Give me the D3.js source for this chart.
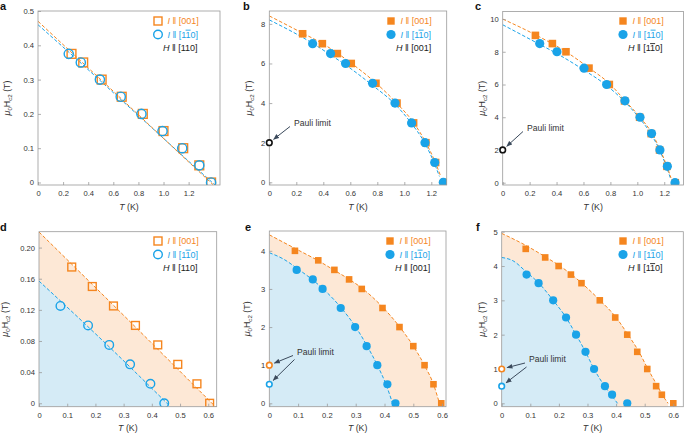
<!DOCTYPE html>
<html lang="en">
<head>
  <meta charset="UTF-8">
  <title>Upper critical field vs temperature</title>
  <script src="https://d3js.org/d3.v7.min.js"></script>
  <style>
    body { margin: 0; background: #fff; }
    svg { display: block; font-family: "Liberation Sans", Arial, sans-serif; }
    .tick text { font-size: 7.6px; fill: #333; }
    .tick line { stroke: #9a9a9a; stroke-width: 0.8px; }
    .frame { fill: none; stroke: #9a9a9a; stroke-width: 0.8px; }
    .fit { fill: none; stroke-width: 1px; stroke-dasharray: 3.5,2; }
  </style>
</head>
<body>
<svg width="685" height="433"></svg>
<script>
  // colours
  const orange = "#f5861f", blue = "#1aa3e8";
  const orangeFill = "#fde8d6", blueFill = "#d5ebf6";

  // ---- data: [T (K), mu0Hc2 (T)] ----
  // a: H || [110], first crystal
  const aSquares = [[0.267,0.375],[0.36,0.35],[0.507,0.30],[0.667,0.25],[0.835,0.20],[1.0,0.15],[1.157,0.10],[1.285,0.05],[1.379,0]];
  const aCircles = [[0.245,0.375],[0.341,0.35],[0.493,0.30],[0.659,0.25],[0.824,0.20],[0.992,0.15],[1.149,0.10],[1.285,0.05],[1.379,0]];
  const aSqFit = [[0,0.47],[0.3,0.368],[0.6,0.266],[0.9,0.163],[1.2,0.06],[1.45,-0.025]];
  const aCiFit = [[0,0.46],[0.3,0.362],[0.6,0.262],[0.9,0.162],[1.2,0.062],[1.45,-0.02]];

  // b: H || [001]
  const bSquares = [[0.247,7.5],[0.393,7],[0.504,6.5],[0.607,6],[0.79,5],[0.946,4],[1.069,3],[1.16,2],[1.232,1],[1.30,0]];
  const bCircles = [[0.321,7],[0.454,6.5],[0.565,6],[0.765,5],[0.931,4],[1.054,3],[1.153,2],[1.225,1],[1.289,0]];
  const bSqFit = [[0,8.4],[0.25,7.52],[0.4,6.98],[0.6,6.05],[0.8,4.95],[0.95,3.95],[1.07,3.0],[1.16,2.0],[1.23,1.0],[1.27,0.3]];
  const bCiFit = [[0,8.2],[0.32,7.02],[0.45,6.45],[0.56,5.95],[0.76,4.92],[0.93,3.95],[1.05,3.0],[1.15,2.0],[1.22,1.0],[1.26,0.3]];

  // c: H || [1-10]
  const cSquares = [[0.243,9],[0.369,8.5],[0.47,8],[0.641,7],[0.792,6],[0.905,5],[1.017,4],[1.103,3],[1.165,2],[1.22,1],[1.282,0]];
  const cCircles = [[0.275,8.5],[0.403,8],[0.604,7],[0.772,6],[0.908,5],[1.02,4],[1.106,3],[1.168,2],[1.223,1],[1.28,0]];
  const cSqFit = [[0,10.0],[0.24,9.05],[0.47,8.0],[0.64,7.02],[0.8,6.0],[0.91,5.0],[1.02,4.0],[1.11,3.0],[1.17,2.0],[1.22,1.0],[1.25,0.3]];
  const cCiFit = [[0,9.65],[0.275,8.45],[0.4,7.9],[0.6,6.9],[0.77,5.95],[0.9,5.0],[1.01,4.0],[1.1,3.0],[1.165,2.0],[1.215,1.0],[1.245,0.3]];

  // d: H || [110], second crystal
  const dSquares = [[0.116,0.175],[0.189,0.15],[0.264,0.125],[0.342,0.10],[0.421,0.075],[0.492,0.05],[0.56,0.025],[0.605,0]];
  const dCircles = [[0.076,0.125],[0.174,0.10],[0.249,0.075],[0.323,0.05],[0.395,0.025],[0.444,0]];
  const dSqFit = [[0,0.22],[0.3,0.113],[0.63,-0.006]];
  const dCiFit = [[0,0.157],[0.23,0.079],[0.465,-0.004]];

  // e: H || [001]
  const eSquares = [[0.089,4],[0.170,3.75],[0.226,3.5],[0.277,3.25],[0.321,3.0],[0.393,2.5],[0.452,2.0],[0.50,1.5],[0.539,1.0],[0.570,0.5],[0.597,0]];
  const eCircles = [[0.095,3.5],[0.151,3.25],[0.185,3.0],[0.248,2.5],[0.298,2.0],[0.338,1.5],[0.375,1.0],[0.410,0.5],[0.438,0]];
  const eSqFit = [[0,4.42],[0.09,4.06],[0.17,3.74],[0.23,3.47],[0.28,3.24],[0.32,3.03],[0.39,2.55],[0.45,2.03],[0.5,1.5],[0.54,0.98],[0.57,0.5],[0.59,0.02]];
  const eCiFit = [[0,3.95],[0.05,3.78],[0.1,3.52],[0.15,3.24],[0.19,2.98],[0.25,2.5],[0.3,2.0],[0.34,1.5],[0.375,1.0],[0.405,0.5],[0.428,0.0]];

  // f: H || [1-10]
  const fSquares = [[0.084,4.5],[0.152,4.25],[0.199,4.0],[0.242,3.75],[0.279,3.5],[0.343,3.0],[0.397,2.5],[0.439,2.0],[0.474,1.5],[0.509,1.0],[0.540,0.5],[0.560,0.25],[0.600,0]];
  const fCircles = [[0.087,3.75],[0.129,3.5],[0.180,3.0],[0.225,2.5],[0.260,2.0],[0.293,1.5],[0.323,1.0],[0.361,0.5],[0.386,0.25],[0.439,0]];
  const fSqFit = [[0,4.95],[0.08,4.62],[0.15,4.28],[0.2,4.02],[0.24,3.78],[0.28,3.5],[0.34,3.03],[0.4,2.5],[0.44,2.02],[0.48,1.5],[0.51,1.02],[0.545,0.5],[0.565,0.2],[0.582,0]];
  const fCiFit = [[0,4.25],[0.04,4.15],[0.087,3.82],[0.13,3.5],[0.18,3.0],[0.225,2.5],[0.26,2.0],[0.293,1.5],[0.323,1.0],[0.36,0.5],[0.385,0.22],[0.405,0]];

  // Pauli limits
  const bcPauli = 2;
  const efPauliSq = 1.0, efPauliCi = 0.5;

  // ticks
  const tTicksWide = [0, 0.2, 0.4, 0.6, 0.8, 1.0, 1.2];
  const tTicksNarrow = [0, 0.1, 0.2, 0.3, 0.4, 0.5, 0.6];
  const aHTicks = [0, 0.1, 0.2, 0.3, 0.4, 0.5];
  const bHTicks = [0, 2, 4, 6, 8];
  const cHTicks = [0, 2, 4, 6, 8, 10];
  const dHTicks = [0, 0.04, 0.08, 0.12, 0.16, 0.20];
  const eHTicks = [0, 1, 2, 3, 4];
  const fHTicks = [0, 1, 2, 3, 4, 5];

  const svg = d3.select("svg");
  const defs = svg.append("defs");
  defs.append("marker")
    .attr("id", "arrowhead")
    .attr("viewBox", "0 -5 10 10")
    .attr("refX", 9).attr("refY", 0)
    .attr("markerWidth", 6).attr("markerHeight", 6)
    .attr("orient", "auto")
    .append("path")
    .attr("d", "M0,-4L10,0L0,4Z")
    .attr("fill", "#3b4a5c");

  function addDir(t, dir) {
    // dir: "110", "001" or "1-10" (overbar on second 1)
    t.append("tspan").text(" \u2016 [");
    if (dir === "1-10") {
      t.append("tspan").text("1");
      t.append("tspan").text("1").style("text-decoration", "overline");
      t.append("tspan").text("0]");
    } else {
      t.append("tspan").text(dir + "]");
    }
  }

  function drawPanel(p) {
    const g = svg.append("g");
    const x = d3.scaleLinear().domain(p.xDom).range([p.left, p.right]);
    const y = d3.scaleLinear().domain(p.yDom).range([p.bottom, p.top]);

    defs.append("clipPath").attr("id", "clip-" + p.letter)
      .append("rect")
      .attr("x", p.left).attr("y", p.top)
      .attr("width", p.right - p.left).attr("height", p.bottom - p.top);
    const plot = g.append("g").attr("clip-path", "url(#clip-" + p.letter + ")");

    const line = d3.line().x(d => x(d[0])).y(d => y(d[1])).curve(d3.curveMonotoneX);

    if (p.shade) {
      const area = d3.area().x(d => x(d[0])).y0(p.bottom).y1(d => y(d[1])).curve(d3.curveMonotoneX);
      plot.append("path").datum(p.sqFit).attr("d", area).attr("fill", orangeFill);
      plot.append("path").datum(p.ciFit).attr("d", area).attr("fill", blueFill);
    }

    // axes with inward ticks
    const xAxis = g.append("g")
      .attr("transform", `translate(0,${p.bottom})`)
      .call(d3.axisBottom(x).tickValues(p.xTicks).tickSize(-3).tickPadding(5.5)
        .tickFormat(d => d === 0 ? "0" : d3.format(".1f")(d)));
    const yAxis = g.append("g")
      .attr("transform", `translate(${p.left},0)`)
      .call(d3.axisLeft(y).tickValues(p.yTicks).tickSize(-3).tickPadding(4)
        .tickFormat(p.yFmt));
    [xAxis, yAxis].forEach(ax => {
      ax.attr("font-size", null).attr("font-family", null);
      ax.select(".domain").remove();
    });

    g.append("rect").attr("class", "frame")
      .attr("x", p.left).attr("y", p.top)
      .attr("width", p.right - p.left).attr("height", p.bottom - p.top);

    // fits
    plot.append("path").datum(p.ciFit).attr("class", "fit").attr("stroke", blue).attr("d", line);
    plot.append("path").datum(p.sqFit).attr("class", "fit").attr("stroke", orange).attr("d", line);

    // points
    const s = p.sqSize;
    plot.append("g").selectAll("rect").data(p.squares).enter().append("rect")
      .attr("x", d => x(d[0]) - s / 2).attr("y", d => y(d[1]) - s / 2)
      .attr("width", s).attr("height", s)
      .attr("fill", p.filled ? orange : "none")
      .attr("stroke", orange).attr("stroke-width", p.filled ? 0 : 1.4);
    plot.append("g").selectAll("circle").data(p.circles).enter().append("circle")
      .attr("cx", d => x(d[0])).attr("cy", d => y(d[1])).attr("r", p.ciR)
      .attr("fill", p.filled ? blue : "none")
      .attr("stroke", blue).attr("stroke-width", p.filled ? 0 : 1.4);

    // Pauli limit markers and arrows
    if (p.pauli) {
      p.pauli.forEach((pl, i) => {
        const px = x(0), py = y(pl.h);
        const sx = p.pauliText[0] - 4 + i * 1.5, sy = p.pauliText[1] + 1 + i * 4;
        const dx = sx - px, dy = sy - py, len = Math.hypot(dx, dy);
        g.append("line")
          .attr("x1", sx).attr("y1", sy)
          .attr("x2", px + dx / len * 5.5).attr("y2", py + dy / len * 5.5)
          .attr("stroke", "#3b4a5c").attr("stroke-width", 1)
          .attr("marker-end", "url(#arrowhead)");
        g.append("circle")
          .attr("cx", px).attr("cy", py).attr("r", 2.8)
          .attr("fill", "#fff").attr("stroke", pl.color).attr("stroke-width", 1.6);
      });
      g.append("text")
        .attr("x", p.pauliText[0]).attr("y", p.pauliText[1])
        .attr("font-size", 8.6).attr("fill", "#333")
        .text("Pauli limit");
    }

    // legend
    const lx = p.legend[0], ly = p.legend[1];
    if (p.filled) {
      g.append("rect").attr("x", lx - 3.7).attr("y", ly - 3.7).attr("width", 7.4).attr("height", 7.4).attr("fill", orange);
      g.append("circle").attr("cx", lx).attr("cy", ly + 13.5).attr("r", 4.6).attr("fill", blue);
    } else {
      g.append("rect").attr("x", lx - 4).attr("y", ly - 4).attr("width", 8).attr("height", 8)
        .attr("fill", "none").attr("stroke", orange).attr("stroke-width", 1.4);
      g.append("circle").attr("cx", lx).attr("cy", ly + 13.5).attr("r", 4.3)
        .attr("fill", "none").attr("stroke", blue).attr("stroke-width", 1.4);
    }
    const t1 = g.append("text").attr("x", lx + 9.5).attr("y", ly + 3.2).attr("font-size", 9).attr("fill", orange);
    t1.append("tspan").text("I").style("font-style", "italic");
    addDir(t1, "001");
    const t2 = g.append("text").attr("x", lx + 9.5).attr("y", ly + 16.7).attr("font-size", 9).attr("fill", blue);
    t2.append("tspan").text("I").style("font-style", "italic");
    addDir(t2, "1-10");
    const t3 = g.append("text").attr("x", lx + 5).attr("y", ly + 30.2).attr("font-size", 9).attr("fill", "#222");
    t3.append("tspan").text("H").style("font-style", "italic");
    addDir(t3, p.hDir);

    // axis titles
    const xl = g.append("text")
      .attr("x", (p.left + p.right) / 2).attr("y", p.bottom + 24.5)
      .attr("text-anchor", "middle").attr("font-size", 8.8).attr("fill", "#333");
    xl.append("tspan").text("T").style("font-style", "italic");
    xl.append("tspan").text(" (K)");

    const yl = g.append("text")
      .attr("transform", `translate(${p.left - p.ylabOff},${(p.top + p.bottom) / 2}) rotate(-90)`)
      .attr("text-anchor", "middle").attr("font-size", 8.8).attr("fill", "#333");
    yl.append("tspan").text("\u03bc").style("font-style", "italic");
    yl.append("tspan").text("0").attr("dy", 2).attr("font-size", 6.2);
    yl.append("tspan").text("H").attr("dy", -2);
    yl.append("tspan").text("c2").attr("dy", 2).attr("font-size", 6.2);
    yl.append("tspan").text(" (T)").attr("dy", -2);

    // panel letter
    svg.append("text").attr("x", p.letterPos[0]).attr("y", p.letterPos[1])
      .attr("font-size", 11).attr("font-weight", "bold").attr("fill", "#111")
      .text(p.letter);
  }

  const fmtPlain = d => d3.format("~g")(d);
  const fmtD = d => d === 0 ? "0" : d3.format(".2f")(d);

  drawPanel({ letter: "a", letterPos: [0, 9.5], left: 38, right: 220, top: 11, bottom: 185,
    xDom: [0, 1.45], yDom: [-0.0073, 0.5], xTicks: tTicksWide, yTicks: aHTicks, yFmt: d => d === 0 ? "0" : d3.format(".1f")(d),
    squares: aSquares, circles: aCircles, sqFit: aSqFit, ciFit: aCiFit,
    filled: false, shade: false, sqSize: 8.8, ciR: 4.6, legend: [158, 21], hDir: "110", ylabOff: 28 });

  drawPanel({ letter: "b", letterPos: [243, 9.5], left: 269.3, right: 446.7, top: 11, bottom: 185,
    xDom: [0, 1.314], yDom: [-0.136, 8.65], xTicks: tTicksWide, yTicks: bHTicks, yFmt: fmtPlain,
    squares: bSquares, circles: bCircles, sqFit: bSqFit, ciFit: bCiFit,
    filled: true, shade: false, sqSize: 7.6, ciR: 4.6, legend: [391, 21], hDir: "001", ylabOff: 17,
    pauli: [{ h: bcPauli, color: "#111" }], pauliText: [294, 125.5] });

  drawPanel({ letter: "c", letterPos: [475, 9.5], left: 502.7, right: 683.5, top: 11.5, bottom: 185,
    xDom: [0, 1.343], yDom: [-0.14, 10.46], xTicks: tTicksWide, yTicks: cHTicks, yFmt: fmtPlain,
    squares: cSquares, circles: cCircles, sqFit: cSqFit, ciFit: cCiFit,
    filled: true, shade: false, sqSize: 7.6, ciR: 4.6, legend: [623, 21], hDir: "1-10", ylabOff: 18,
    pauli: [{ h: bcPauli, color: "#111" }], pauliText: [527, 130.5] });

  drawPanel({ letter: "d", letterPos: [0, 231], left: 39, right: 216.7, top: 231.7, bottom: 406.7,
    xDom: [0, 0.63], yDom: [-0.0044, 0.2204], xTicks: tTicksNarrow, yTicks: dHTicks, yFmt: fmtD,
    squares: dSquares, circles: dCircles, sqFit: dSqFit, ciFit: dCiFit,
    filled: false, shade: true, sqSize: 7.8, ciR: 4.3, legend: [158, 241], hDir: "110", ylabOff: 31 });

  drawPanel({ letter: "e", letterPos: [245, 231], left: 269.3, right: 446, top: 231, bottom: 406.7,
    xDom: [0, 0.6135], yDom: [-0.089, 4.52], xTicks: tTicksNarrow, yTicks: eHTicks, yFmt: fmtPlain,
    squares: eSquares, circles: eCircles, sqFit: eSqFit, ciFit: eCiFit,
    filled: true, shade: true, sqSize: 6.6, ciR: 4.1, legend: [390, 241], hDir: "001", ylabOff: 19,
    pauli: [{ h: efPauliSq, color: orange }, { h: efPauliCi, color: blue }], pauliText: [297, 354.5] });

  drawPanel({ letter: "f", letterPos: [476, 231], left: 501.7, right: 683.3, top: 231.7, bottom: 406.7,
    xDom: [0, 0.635], yDom: [-0.099, 5.0], xTicks: tTicksNarrow, yTicks: fHTicks, yFmt: fmtPlain,
    squares: fSquares, circles: fCircles, sqFit: fSqFit, ciFit: fCiFit,
    filled: true, shade: true, sqSize: 6.6, ciR: 4.1, legend: [623, 241], hDir: "1-10", ylabOff: 17,
    pauli: [{ h: efPauliSq, color: orange }, { h: efPauliCi, color: blue }], pauliText: [529, 362] });
</script>
</body>
</html>
